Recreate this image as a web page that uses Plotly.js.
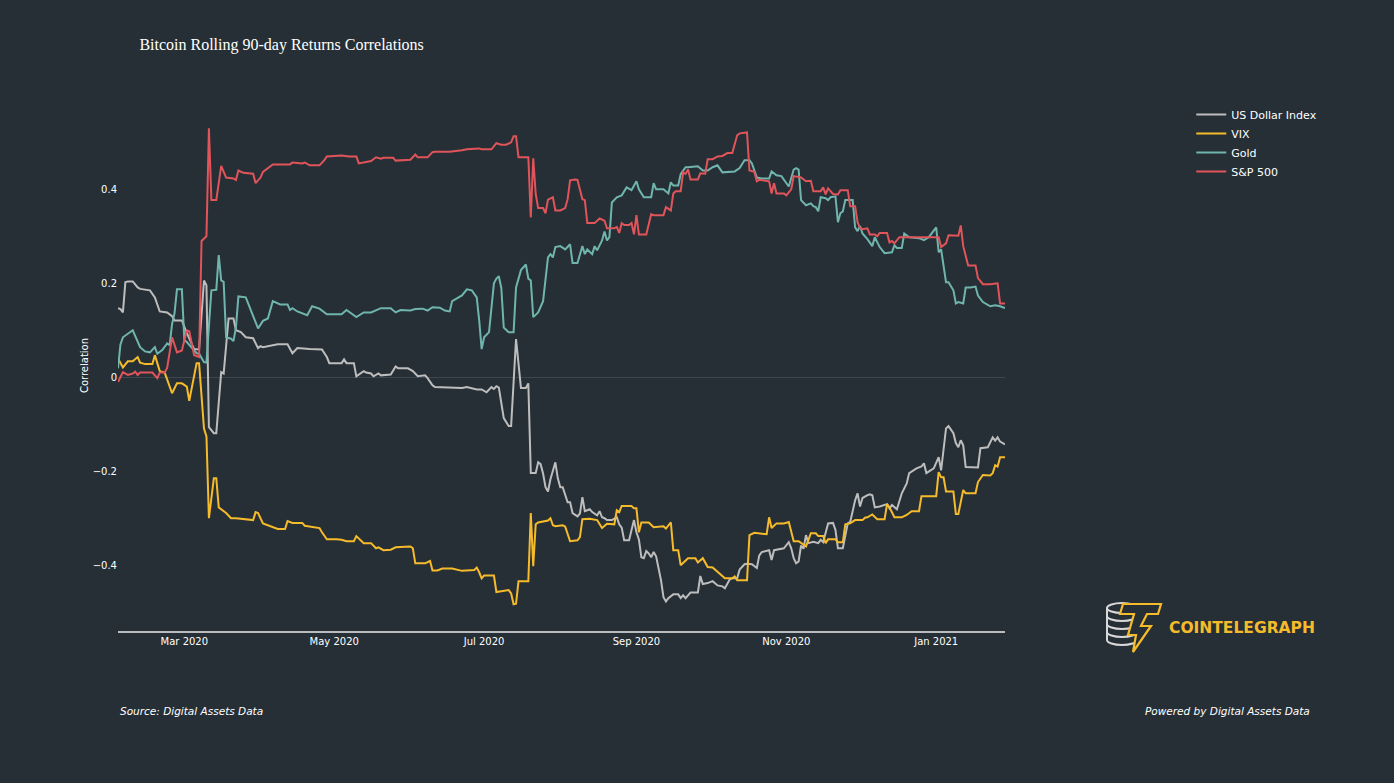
<!DOCTYPE html>
<html>
<head>
<meta charset="utf-8">
<script src="https://cdn.plot.ly/plotly-3.0.1.min.js"></script>
<style>
  html, body { margin: 0; padding: 0; background: #262f36; }
  #chart { width: 1394px; height: 783px; }
</style>
</head>
<body>
<div id="chart"></div>
<script>
// Day offsets are days since 3 Feb 2020; values are rolling 90-day correlations.
const START_DATE = '2020-02-03';
const END_DATE = '2021-01-29';

const seriesNames = ['US Dollar Index', 'VIX', 'Gold', 'S&P 500'];

const usdDollarIndex = [
  [0,0.147],[1,0.145],[2,0.138],[3,0.202],[4,0.204],[6,0.204],[8,0.191],[9,0.188],[13,0.185],[15,0.17],
  [17,0.14],[20,0.138],[22,0.13],[23,0.121],[26,0.121],[28,0.094],[31,0.06],[33,0.059],[35,0.206],[36,0.196],
  [37,-0.106],[39,-0.119],[40,-0.119],[42,0.011],[43,0.008],[44,0.06],[45,0.125],[47,0.125],[48,0.1],[50,0.096],
  [52,0.085],[55,0.083],[57,0.062],[58,0.066],[59,0.064],[65,0.07],[69,0.07],[71,0.051],[73,0.062],[78,0.06],
  [83,0.059],[85,0.043],[86,0.03],[91,0.03],[92,0.038],[93,0.03],[96,0.03],[97,0.002],[100,0.013],[101,0.01],
  [103,0.008],[104,0.002],[106,0.008],[107,0.004],[111,0.006],[113,0.023],[114,0.019],[118,0.019],[120,0.013],[122,0.002],
  [125,0.004],[126,-0.002],[128,-0.017],[129,-0.021],[136,-0.022],[140,-0.023],[142,-0.021],[146,-0.026],[148,-0.026],[150,-0.032],
  [152,-0.021],[153,-0.025],[154,-0.019],[155,-0.022],[157,-0.087],[158,-0.097],[159,-0.104],[160,-0.104],[161,-0.006],[162,0.081],
  [164,-0.023],[166,-0.023],[167,-0.013],[168,-0.204],[170,-0.204],[171,-0.181],[172,-0.185],[173,-0.205],[174,-0.234],[175,-0.243],
  [176,-0.217],[178,-0.181],[179,-0.215],[180,-0.234],[181,-0.234],[183,-0.266],[184,-0.266],[185,-0.289],[187,-0.296],[188,-0.29],
  [189,-0.255],[190,-0.285],[191,-0.283],[192,-0.281],[193,-0.287],[195,-0.294],[196,-0.285],[197,-0.298],[198,-0.3],[199,-0.304],
  [201,-0.304],[203,-0.298],[204,-0.313],[205,-0.32],[206,-0.347],[208,-0.347],[209,-0.325],[210,-0.304],[211,-0.33],[212,-0.345],
  [213,-0.383],[214,-0.385],[215,-0.37],[216,-0.375],[217,-0.383],[218,-0.372],[219,-0.381],[221,-0.432],[222,-0.468],[223,-0.477],
  [224,-0.47],[226,-0.462],[228,-0.462],[229,-0.47],[230,-0.464],[231,-0.47],[232,-0.464],[233,-0.458],[236,-0.458],[237,-0.423],
  [238,-0.44],[240,-0.438],[242,-0.434],[244,-0.443],[246,-0.445],[247,-0.449],[249,-0.43],[250,-0.428],[252,-0.428],[253,-0.409],
  [255,-0.398],[256,-0.397],[258,-0.398],[260,-0.406],[261,-0.379],[262,-0.372],[265,-0.368],[266,-0.389],[267,-0.368],[269,-0.366],
  [271,-0.364],[273,-0.351],[274,-0.364],[275,-0.385],[276,-0.396],[277,-0.392],[278,-0.358],[279,-0.365],[280,-0.336],[281,-0.353],
  [283,-0.35],[285,-0.353],[286,-0.346],[287,-0.351],[289,-0.311],[291,-0.31],[292,-0.325],[293,-0.364],[295,-0.364],[297,-0.311],
  [298,-0.308],[300,-0.262],[301,-0.247],[302,-0.275],[303,-0.257],[305,-0.251],[306,-0.249],[307,-0.251],[308,-0.277],[310,-0.275],
  [312,-0.272],[313,-0.27],[314,-0.279],[315,-0.272],[317,-0.281],[319,-0.247],[321,-0.226],[322,-0.204],[325,-0.194],[327,-0.19],
  [328,-0.183],[329,-0.204],[332,-0.194],[333,-0.18],[334,-0.17],[335,-0.198],[336,-0.155],[337,-0.109],[338,-0.104],[340,-0.119],
  [341,-0.14],[342,-0.149],[343,-0.134],[344,-0.145],[345,-0.191],[347,-0.192],[348,-0.191],[350,-0.192],[351,-0.151],[353,-0.149],
  [354,-0.149],[356,-0.128],[357,-0.135],[358,-0.128],[359,-0.137],[361,-0.143]
];

const vix = [
  [0,0.04],[2,0.021],[4,0.034],[6,0.034],[8,0.043],[9,0.031],[11,0.028],[14,0.028],[15,0.047],[17,0.013],
  [19,0.01],[22,-0.034],[24,-0.013],[26,-0.013],[28,-0.02],[29,-0.05],[32,0.03],[33,0.03],[35,-0.109],[36,-0.126],
  [37,-0.3],[39,-0.215],[40,-0.215],[41,-0.277],[44,-0.289],[46,-0.3],[48,-0.3],[52,-0.302],[55,-0.304],[56,-0.287],
  [57,-0.289],[59,-0.311],[62,-0.317],[65,-0.323],[68,-0.323],[69,-0.306],[71,-0.31],[75,-0.31],[76,-0.316],[79,-0.319],
  [82,-0.321],[83,-0.33],[85,-0.345],[89,-0.345],[91,-0.346],[93,-0.349],[96,-0.349],[97,-0.338],[100,-0.353],[103,-0.353],
  [105,-0.364],[106,-0.362],[108,-0.368],[111,-0.367],[113,-0.362],[119,-0.36],[120,-0.364],[121,-0.396],[125,-0.396],[127,-0.391],
  [128,-0.411],[130,-0.411],[132,-0.407],[136,-0.407],[138,-0.409],[140,-0.412],[145,-0.41],[146,-0.405],[147,-0.415],[148,-0.428],
  [149,-0.422],[153,-0.422],[154,-0.457],[156,-0.455],[159,-0.453],[160,-0.46],[161,-0.483],[162,-0.482],[163,-0.434],[167,-0.434],
  [168,-0.289],[169,-0.402],[170,-0.313],[171,-0.309],[175,-0.305],[176,-0.3],[177,-0.315],[178,-0.317],[181,-0.315],[182,-0.318],
  [184,-0.349],[187,-0.347],[188,-0.34],[189,-0.302],[192,-0.301],[195,-0.304],[197,-0.321],[199,-0.312],[202,-0.313],[203,-0.283],
  [204,-0.287],[205,-0.274],[209,-0.274],[210,-0.279],[211,-0.279],[212,-0.33],[213,-0.309],[216,-0.309],[218,-0.319],[222,-0.317],
  [223,-0.322],[225,-0.309],[226,-0.368],[228,-0.368],[229,-0.4],[232,-0.385],[235,-0.385],[236,-0.394],[238,-0.385],[240,-0.404],
  [242,-0.405],[247,-0.428],[250,-0.428],[251,-0.424],[252,-0.432],[256,-0.432],[257,-0.336],[259,-0.331],[264,-0.334],[265,-0.298],
  [266,-0.321],[268,-0.311],[271,-0.311],[273,-0.308],[274,-0.332],[275,-0.349],[277,-0.349],[279,-0.357],[280,-0.36],[282,-0.332],
  [284,-0.332],[285,-0.338],[287,-0.338],[288,-0.353],[289,-0.345],[292,-0.345],[293,-0.351],[295,-0.351],[296,-0.313],[298,-0.311],
  [300,-0.304],[303,-0.304],[304,-0.299],[305,-0.298],[307,-0.292],[309,-0.302],[312,-0.302],[313,-0.27],[314,-0.277],[316,-0.298],
  [319,-0.298],[321,-0.293],[323,-0.285],[326,-0.285],[327,-0.253],[333,-0.253],[334,-0.202],[335,-0.213],[336,-0.213],[337,-0.243],
  [340,-0.243],[341,-0.291],[342,-0.291],[344,-0.24],[345,-0.247],[349,-0.247],[350,-0.223],[352,-0.208],[355,-0.209],[356,-0.204],
  [357,-0.187],[358,-0.19],[359,-0.17],[361,-0.17]
];

const gold = [
  [0,0.019],[1,0.07],[2,0.085],[6,0.1],[9,0.064],[11,0.055],[13,0.053],[15,0.064],[16,0.05],[18,0.058],
  [20,0.072],[21,0.068],[22,0.113],[23,0.136],[24,0.187],[26,0.187],[27,0.079],[28,0.075],[32,0.051],[33,0.05],
  [35,0.032],[36,0.031],[38,0.185],[40,0.186],[41,0.26],[42,0.206],[43,0.203],[44,0.085],[46,0.082],[47,0.077],
  [48,0.106],[49,0.172],[52,0.17],[56,0.115],[57,0.104],[59,0.12],[61,0.125],[63,0.162],[66,0.155],[69,0.155],
  [70,0.143],[71,0.147],[73,0.14],[77,0.132],[79,0.151],[82,0.146],[85,0.134],[91,0.134],[93,0.143],[97,0.128],
  [100,0.138],[103,0.138],[107,0.147],[111,0.147],[113,0.138],[115,0.143],[119,0.142],[121,0.145],[124,0.146],[126,0.142],
  [128,0.149],[131,0.148],[133,0.142],[135,0.14],[136,0.162],[140,0.174],[142,0.187],[144,0.185],[146,0.17],[147,0.121],
  [148,0.06],[149,0.085],[151,0.096],[153,0.2],[154,0.21],[155,0.215],[156,0.19],[157,0.106],[159,0.096],[161,0.096],
  [162,0.191],[164,0.228],[166,0.24],[167,0.21],[168,0.206],[169,0.128],[171,0.138],[173,0.162],[175,0.255],[176,0.262],
  [177,0.255],[178,0.277],[180,0.279],[182,0.272],[184,0.283],[185,0.243],[187,0.243],[189,0.279],[190,0.262],[191,0.272],
  [193,0.262],[194,0.279],[195,0.27],[197,0.291],[198,0.31],[199,0.291],[200,0.298],[201,0.372],[203,0.383],[205,0.387],
  [207,0.404],[209,0.398],[211,0.417],[212,0.4],[214,0.383],[217,0.383],[218,0.413],[219,0.4],[222,0.4],[224,0.391],
  [225,0.415],[226,0.408],[228,0.408],[229,0.432],[231,0.447],[232,0.447],[236,0.449],[238,0.44],[240,0.44],[242,0.447],
  [244,0.451],[246,0.436],[249,0.438],[251,0.438],[253,0.445],[255,0.462],[257,0.462],[258,0.455],[260,0.425],[262,0.423],
  [265,0.423],[266,0.438],[268,0.43],[270,0.428],[273,0.406],[275,0.442],[276,0.445],[277,0.442],[278,0.377],[280,0.366],
  [282,0.37],[283,0.364],[284,0.362],[285,0.353],[286,0.383],[288,0.381],[289,0.377],[290,0.383],[292,0.385],[293,0.33],
  [294,0.349],[295,0.353],[296,0.377],[299,0.377],[300,0.319],[301,0.311],[302,0.322],[303,0.306],[305,0.294],[307,0.279],
  [308,0.298],[310,0.277],[312,0.264],[315,0.266],[316,0.281],[317,0.275],[319,0.275],[320,0.306],[322,0.298],[326,0.296],
  [328,0.292],[330,0.298],[333,0.319],[334,0.266],[335,0.272],[337,0.202],[338,0.202],[340,0.185],[341,0.157],[342,0.16],
  [344,0.157],[345,0.191],[347,0.191],[349,0.193],[350,0.174],[352,0.16],[355,0.151],[357,0.153],[359,0.151],[361,0.147]
];

const sp500 = [
  [0,-0.01],[2,0.011],[4,0.005],[6,0.008],[7,0.012],[8,0.005],[9,0.01],[14,0.01],[16,-0.002],[17,0.01],
  [19,0.01],[20,0.02],[22,0.085],[24,0.053],[26,0.057],[28,0.1],[29,0.098],[31,0.047],[33,0.043],[34,0.29],
  [36,0.3],[37,0.53],[38,0.377],[40,0.377],[42,0.45],[44,0.425],[47,0.423],[48,0.42],[49,0.44],[51,0.435],
  [55,0.433],[56,0.413],[58,0.425],[59,0.437],[63,0.453],[70,0.453],[71,0.457],[75,0.455],[76,0.457],[78,0.451],
  [82,0.451],[84,0.462],[85,0.47],[91,0.472],[94,0.47],[97,0.47],[98,0.455],[100,0.457],[103,0.46],[105,0.468],
  [107,0.465],[108,0.467],[112,0.467],[113,0.461],[119,0.463],[121,0.474],[122,0.468],[126,0.468],[128,0.479],[129,0.48],
  [135,0.48],[140,0.483],[142,0.485],[147,0.487],[148,0.485],[152,0.485],[154,0.498],[156,0.495],[158,0.495],[160,0.5],
  [161,0.513],[162,0.513],[163,0.468],[167,0.468],[168,0.34],[169,0.466],[170,0.39],[171,0.36],[173,0.36],[174,0.349],
  [175,0.378],[177,0.383],[178,0.355],[180,0.355],[182,0.36],[183,0.379],[184,0.419],[186,0.421],[187,0.42],[189,0.379],
  [190,0.377],[191,0.328],[194,0.328],[196,0.338],[198,0.333],[199,0.317],[202,0.317],[203,0.32],[204,0.307],[205,0.328],
  [206,0.324],[208,0.324],[209,0.328],[210,0.304],[211,0.345],[212,0.304],[215,0.304],[217,0.347],[218,0.345],[222,0.345],
  [223,0.362],[225,0.355],[226,0.391],[227,0.396],[229,0.396],[230,0.436],[231,0.433],[232,0.442],[233,0.421],[236,0.421],
  [237,0.434],[239,0.433],[240,0.464],[242,0.464],[244,0.47],[246,0.471],[248,0.477],[250,0.477],[252,0.515],[253,0.519],
  [255,0.521],[256,0.521],[257,0.44],[259,0.437],[260,0.417],[261,0.42],[265,0.417],[266,0.391],[267,0.413],[268,0.391],
  [271,0.391],[272,0.387],[274,0.4],[275,0.428],[278,0.425],[280,0.417],[282,0.418],[283,0.396],[286,0.396],[287,0.404],
  [288,0.389],[289,0.402],[291,0.39],[293,0.389],[294,0.398],[297,0.398],[298,0.364],[300,0.364],[301,0.33],[302,0.317],
  [303,0.315],[305,0.317],[306,0.304],[308,0.304],[309,0.3],[310,0.307],[313,0.307],[314,0.287],[315,0.29],[316,0.285],
  [318,0.298],[330,0.298],[334,0.298],[335,0.277],[337,0.285],[338,0.302],[342,0.301],[343,0.323],[344,0.279],[346,0.238],
  [349,0.238],[350,0.211],[352,0.198],[355,0.198],[357,0.2],[358,0.2],[359,0.157],[361,0.157]
];

const seriesData = [usdDollarIndex, vix, gold, sp500];
const seriesColors = ['#bdbdbd', '#f6bb2b', '#70b5ad', '#e0545a'];

const startMs = Date.parse(START_DATE + 'T00:00:00Z');
function toDate(day) {
  return new Date(startMs + day * 86400000).toISOString().slice(0, 10);
}

const traces = seriesData.map((s, i) => ({
  type: 'scatter',
  mode: 'lines',
  name: seriesNames[i],
  x: s.map(p => toDate(p[0])),
  y: s.map(p => p[1]),
  line: { color: seriesColors[i], width: 2 },
  hoverinfo: 'x+y+name'
}));

const BG = '#262f36';
const TXT = '#ffffff';
const FONT = 'DejaVu Sans, Verdana, sans-serif';

const logoSvg =
  '<svg xmlns="http://www.w3.org/2000/svg" width="64" height="56" viewBox="0 0 64 56">' +
  '<g fill="none" stroke="#d8d8d8" stroke-width="2">' +
  '<ellipse cx="19" cy="9" rx="15" ry="5"/>' +
  '<path d="M4 9 V41 A15 5 0 0 0 34 41 V9"/>' +
  '<path d="M4 17 A15 5 0 0 0 34 17"/>' +
  '<path d="M4 25 A15 5 0 0 0 34 25"/>' +
  '<path d="M4 33 A15 5 0 0 0 34 33"/>' +
  '</g>' +
  '<path d="M20 5 L58 5 L55 15 L44 15 L38 27 L48 27 L30 53 L33 36 L25 36 L31 15 L17 15 Z" fill="' + BG + '" stroke="#f6bb2b" stroke-width="2.2" stroke-linejoin="miter"/>' +
  '</svg>';

const layout = {
  width: 1394,
  height: 783,
  paper_bgcolor: BG,
  plot_bgcolor: BG,
  margin: { l: 118, r: 389, t: 100, b: 152 },
  font: { family: FONT, color: TXT, size: 10 },
  title: {
    text: 'Bitcoin Rolling 90-day Returns Correlations',
    font: { family: 'Liberation Serif, Times New Roman, serif', size: 16, color: TXT },
    xref: 'container', yref: 'container',
    x: 0.1, xanchor: 'left',
    y: 0.943, yanchor: 'middle'
  },
  xaxis: {
    type: 'date',
    range: [START_DATE, END_DATE],
    showgrid: false,
    zeroline: false,
    showline: true,
    linecolor: '#b9bdc0',
    linewidth: 2,
    ticks: '',
    dtick: 'M2',
    tick0: '2020-01-01',
    tickformat: '%b %Y',
    tickfont: { family: FONT, size: 10, color: TXT }
  },
  yaxis: {
    range: [-0.54, 0.59],
    showgrid: false,
    zeroline: true,
    zerolinecolor: '#3e474e',
    zerolinewidth: 1,
    showline: false,
    ticks: '',
    dtick: 0.2,
    tickfont: { family: FONT, size: 10, color: TXT },
    title: { text: 'Correlation', font: { family: FONT, size: 10, color: TXT }, standoff: 2 }
  },
  legend: {
    x: 1.21, xanchor: 'left',
    y: 1.0, yanchor: 'top',
    bgcolor: 'rgba(0,0,0,0)',
    font: { family: FONT, size: 11, color: TXT },
    tracegroupgap: 0
  },
  showlegend: true,
  annotations: [
    {
      text: 'Source: Digital Assets Data',
      xref: 'paper', yref: 'paper',
      x: 0, y: -0.15, xanchor: 'left', yanchor: 'middle',
      showarrow: false,
      font: { family: FONT, size: 10.5, color: TXT, style: 'italic' }
    },
    {
      text: 'Powered by Digital Assets Data',
      xref: 'paper', yref: 'paper',
      x: (1312 - 118) / 887, y: -0.15, xanchor: 'right', yanchor: 'middle',
      showarrow: false,
      font: { family: FONT, size: 10.5, color: TXT, style: 'italic' }
    },
    {
      text: 'COINTELEGRAPH',
      xref: 'paper', yref: 'paper',
      x: (1167 - 118) / 887, y: (631 - 628) / 531, xanchor: 'left', yanchor: 'middle',
      showarrow: false,
      font: { family: 'DejaVu Sans, sans-serif', size: 15.5, color: '#f6bb2b', weight: 'bold' }
    }
  ],
  images: [
    {
      source: 'data:image/svg+xml;charset=utf-8,' + encodeURIComponent(logoSvg),
      xref: 'paper', yref: 'paper',
      x: (1103 - 118) / 887, y: (631 - 599) / 531,
      sizex: 64 / 887, sizey: 56 / 531,
      xanchor: 'left', yanchor: 'top',
      sizing: 'stretch',
      layer: 'above'
    }
  ]
};

Plotly.newPlot('chart', traces, layout, { displayModeBar: false, responsive: false });
</script>
</body>
</html>
